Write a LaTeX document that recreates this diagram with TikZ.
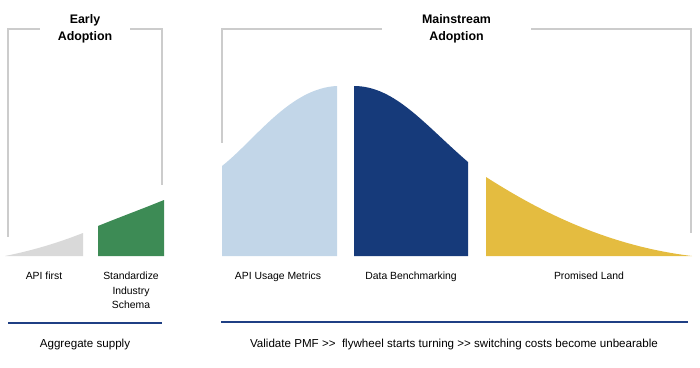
\documentclass[tikz,border=0pt]{standalone}
\usepackage{fontspec}
\setmainfont{Liberation Sans}[Ligatures=TeXReset]
\usepackage{tikz}
\usepackage{xcolor}
\definecolor{bracketgray}{HTML}{CCCCCC}
\definecolor{firstgray}{HTML}{D9D9D9}
\definecolor{schemagreen}{HTML}{3D8B55}
\definecolor{usageblue}{HTML}{C2D6E8}
\definecolor{benchblue}{HTML}{163A7A}
\definecolor{landyellow}{HTML}{E4BC40}
\definecolor{ruleblue}{HTML}{1F3F84}
\tikzset{
    bracket-line/.style = {draw=bracketgray, line width=1.3pt},
    phase-title/.style = {fill=white, font=\bfseries\fontsize{12.4}{17}\selectfont, align=center, inner sep=0pt},
    stage-label/.style = {font=\fontsize{10.4}{14.5}\selectfont, align=center, anchor=north, inner sep=0pt},
    summary-line/.style = {draw=ruleblue, line width=2.2pt},
    summary-text/.style = {font=\fontsize{11.6}{14}\selectfont, inner sep=0pt},
}

\begin{document}
\begin{tikzpicture}[x=1pt, y=-1pt]
\useasboundingbox (0,0) rectangle (700,367);

% brackets with phase titles
\node [phase-title, minimum width=90pt, minimum height=30pt] (early) at (85,29) {Early\\Adoption};
\node [phase-title, minimum width=149pt, minimum height=30pt] (main) at (456.5,29) {Mainstream\\Adoption};
\draw [bracket-line] (early.west) -| (8,237);
\draw [bracket-line] (early.east) -| (162,185);
\draw [bracket-line] (main.west) -| (222,143);
\draw [bracket-line] (main.east) -| (691,233);

% adoption curve, cut into stages
\fill [firstgray] (5,256) .. controls (35,250) and (60,242) .. (83,233) -- (83,256) -- cycle;
\fill [schemagreen] (98,256) -- (98,226) .. controls (120,217) and (142,209) .. (164,200) -- (164,256) -- cycle;
\fill [usageblue] (222,256) -- (222,166) .. controls (255,140) and (290,88) .. (337,86) -- (337,256) -- cycle;
\fill [benchblue] (354,256) -- (354,86) .. controls (395,86) and (425,125) .. (468,162) -- (468,256) -- cycle;
\fill [landyellow] (486,256) -- (486,177) .. controls (530,205) and (600,245) .. (692,256) -- cycle;

% stage labels
\node [stage-label] (first) at (44,272) {API first};
\node [stage-label] (schema) at (131,272) {Standardize\\Industry\\Schema};
\node [stage-label] (usage) at (278,272) {API Usage Metrics};
\node [stage-label] (bench) at (411,272) {Data Benchmarking};
\node [stage-label] (land) at (589,272) {Promised Land};

% summaries
\draw [summary-line] (8,323) -- (162,323);
\draw [summary-line] (221,322) -- (688,322);
\node [summary-text] (supply) at (85,344) {Aggregate supply};
\node [summary-text] (flywheel) at (454,344) {Validate PMF >>\ \ flywheel starts turning >> switching costs become unbearable};
\end{tikzpicture}
\end{document}
